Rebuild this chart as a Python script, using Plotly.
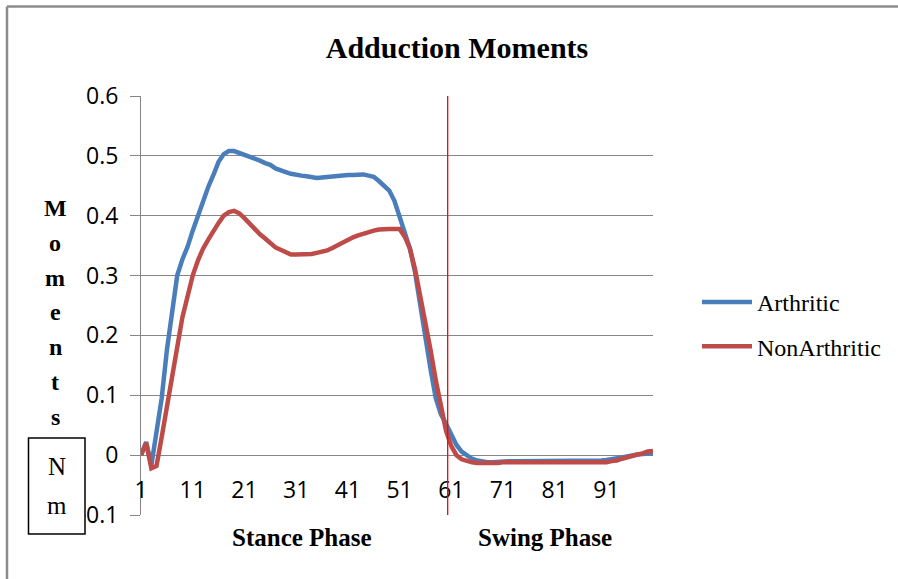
import plotly.graph_objects as go

# gait cycle (% of cycle, Excel category numbers 1..100)
frames = list(range(1, 101))

arthritic = [
    0.000, 0.022, -0.017, 0.035, 0.095, 0.175, 0.245, 0.300, 0.327, 0.348,
    0.375, 0.400, 0.427, 0.448, 0.468, 0.490, 0.503, 0.508, 0.508, 0.505,
    0.502, 0.499, 0.496, 0.492, 0.488, 0.485, 0.479, 0.475, 0.473, 0.470,
    0.468, 0.467, 0.466, 0.464, 0.463, 0.464, 0.465, 0.466, 0.467, 0.467,
    0.468, 0.468, 0.469, 0.469, 0.467, 0.465, 0.458, 0.450, 0.442, 0.425,
    0.400, 0.375, 0.345, 0.305, 0.248, 0.192, 0.143, 0.095, 0.068, 0.052,
    0.035, 0.017, 0.006, 0.000, -0.006, -0.009, -0.011, -0.012, -0.012, -0.011,
    -0.010, -0.010, -0.010, -0.010, -0.010, -0.010, -0.010, -0.010, -0.010, -0.010,
    -0.010, -0.010, -0.010, -0.010, -0.009, -0.009, -0.009, -0.009, -0.009, -0.009,
    -0.008, -0.007, -0.006, -0.004, -0.002, 0.000, 0.001, 0.002, 0.003, 0.003,
]

non_arthritic = [
    0.000, 0.020, -0.022, -0.018, 0.030, 0.080, 0.135, 0.190, 0.230, 0.265,
    0.300, 0.325, 0.345, 0.360, 0.375, 0.388, 0.400, 0.406, 0.408, 0.404,
    0.396, 0.387, 0.377, 0.369, 0.362, 0.354, 0.347, 0.343, 0.338, 0.335,
    0.335, 0.335, 0.335, 0.336, 0.338, 0.340, 0.342, 0.346, 0.351, 0.356,
    0.360, 0.364, 0.367, 0.370, 0.373, 0.375, 0.377, 0.378, 0.378, 0.378,
    0.378, 0.365, 0.345, 0.310, 0.268, 0.222, 0.175, 0.125, 0.080, 0.040,
    0.015, 0.000, -0.007, -0.010, -0.012, -0.013, -0.013, -0.014, -0.014, -0.013,
    -0.012, -0.012, -0.012, -0.012, -0.012, -0.012, -0.012, -0.013, -0.013, -0.013,
    -0.013, -0.013, -0.012, -0.012, -0.013, -0.013, -0.013, -0.013, -0.013, -0.012,
    -0.012, -0.010, -0.009, -0.006, -0.003, -0.001, 0.001, 0.003, 0.006, 0.007,
]

x_ticks = [1, 11, 21, 31, 41, 51, 61, 71, 81, 91]
y_ticks = [-0.1, 0, 0.1, 0.2, 0.3, 0.4, 0.5, 0.6]
y_labels = ["-0.1", "0", "0.1", "0.2", "0.3", "0.4", "0.5", "0.6"]
phase_split = 60.3

W, H = 898, 579
L, R, T, B = 141, 245, 96, 64
PW, PH = W - L - R, H - T - B


def px(xp):
    return (xp - L) / PW


def py(yp):
    return (H - B - yp) / PH


grid = "#868686"
serif = "Liberation Serif, Times New Roman, serif"
sans = "Open Sans, Calibri, sans-serif"

fig = go.Figure()
fig.add_trace(go.Scatter(x=frames, y=arthritic, mode="lines", name="Arthritic",
                         legendgroup="a", line=dict(color="#4A7EBB", width=4.5)))
# second series sits on the overlaid axis that carries the tick labels at y=0
fig.add_trace(go.Scatter(x=frames, y=non_arthritic, mode="lines", name="NonArthritic",
                         xaxis="x2", legendgroup="b", line=dict(color="#BE4B48", width=4.5)))

# phase divider
fig.add_shape(type="line", xref="x", yref="y", x0=phase_split, x1=phase_split,
              y0=-0.1, y1=0.6, line=dict(color="#FF0000", width=1.3))

# chart frame (top and left edges only)
fig.add_shape(type="line", xref="paper", yref="paper", x0=px(7), x1=px(900),
              y0=py(6.5), y1=py(6.5), line=dict(color="#8C8C8C", width=2.5))
fig.add_shape(type="line", xref="paper", yref="paper", x0=px(7), x1=px(7),
              y0=py(6.5), y1=py(582), line=dict(color="#8C8C8C", width=2.5))

# unit box
fig.add_shape(type="rect", xref="paper", yref="paper", x0=px(28.5), x1=px(85),
              y0=py(438), y1=py(534), line=dict(color="black", width=1.5),
              fillcolor="white", layer="above")


def note(text, x, y, size):
    fig.add_annotation(text=text, xref="paper", yref="paper", x=px(x), y=py(y),
                       xanchor="center", yanchor="middle", showarrow=False,
                       font=dict(family=serif, size=size, color="black"))


note("N", 56.5, 466, 25)
note("m", 56.5, 505, 25)

# stacked y-axis title
for k, ch in enumerate("Moments"):
    note("<b>%s</b>" % ch, 55, 208 + k * 34.8, 24)

# phase labels
note("<b>Stance Phase</b>", 302, 537, 25)
note("<b>Swing Phase</b>", 545, 537, 25)

fig.update_layout(
    width=W, height=H,
    margin=dict(l=L, r=R, t=T, b=B),
    paper_bgcolor="white", plot_bgcolor="white",
    title=dict(text="<b>Adduction Moments</b>", x=457 / W, xanchor="center",
               y=1 - 47 / H, yanchor="middle",
               font=dict(family=serif, size=30, color="black")),
    xaxis=dict(range=[1, 100], showgrid=False, zeroline=False, showline=False,
               showticklabels=False, ticks=""),
    xaxis2=dict(range=[1, 100], overlaying="x", anchor="free", position=1 / 7,
                side="bottom", showgrid=False, zeroline=False, showline=False,
                tickmode="array", tickvals=x_ticks, ticks="",
                ticklabelstandoff=19,
                tickfont=dict(family=sans, size=23, color="black")),
    yaxis=dict(range=[-0.1, 0.6], tickmode="array", tickvals=y_ticks, ticktext=y_labels,
               showgrid=True, gridcolor=grid, gridwidth=1, zeroline=False,
               showline=True, linecolor=grid, linewidth=1,
               ticks="outside", ticklen=10, tickcolor=grid,
               ticklabelstandoff=7,
               tickfont=dict(family=sans, size=23, color="black")),
    legend=dict(x=px(697), xanchor="left", y=py(280), yanchor="top",
                font=dict(family=serif, size=24, color="black"),
                tracegroupgap=10, itemwidth=50, bgcolor="rgba(0,0,0,0)"),
    showlegend=True,
)

# drop the browser's default 8px body margin so the figure sits at the page corner
fig.write_html("out.html", config={"displayModeBar": False},
               post_script="document.body.style.margin='0';")
